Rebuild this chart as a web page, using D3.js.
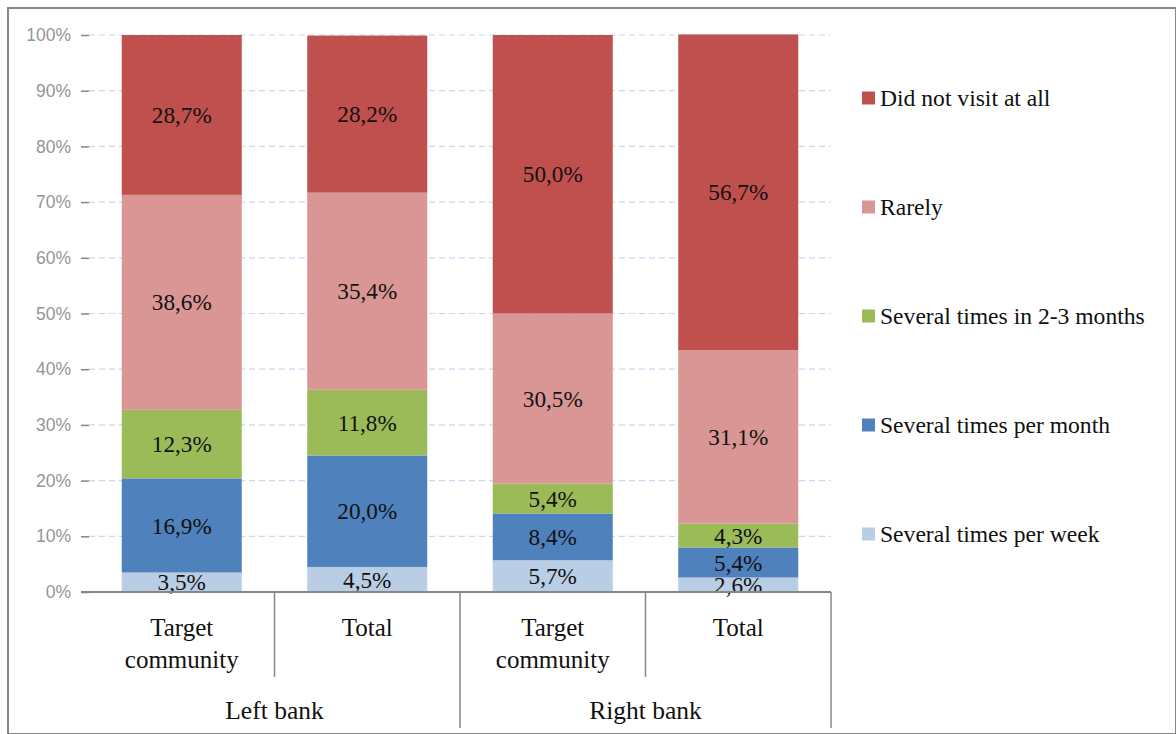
<!DOCTYPE html>
<html><head><meta charset="utf-8">
<script src="https://cdn.jsdelivr.net/npm/d3@7/dist/d3.min.js"></script>
</head><body>
<script>
// ---- data ----
const categories = ["LT", "LTot", "RT", "RTot"];
const categoryLabels = [["Target", "community"], ["Total"], ["Target", "community"], ["Total"]];
const groups = ["Left bank", "Right bank"];
const seriesNames = ["Several times per week", "Several times per month", "Several times in 2-3 months", "Rarely", "Did not visit at all"];
const perWeek    = [3.5, 4.5, 5.7, 2.6];
const perMonth   = [16.9, 20.0, 8.4, 5.4];
const in2to3     = [12.3, 11.8, 5.4, 4.3];
const rarely     = [38.6, 35.4, 30.5, 31.1];
const notAtAll   = [28.7, 28.2, 50.0, 56.7];
const yTicks = [0, 10, 20, 30, 40, 50, 60, 70, 80, 90, 100];
const colors = ["#B9CDE5", "#4F81BD", "#9BBB59", "#D99694", "#C0504D"];

const W = 1176, H = 734;
const SERIF = '"Liberation Serif"';
const SANS = '"Liberation Sans"';
d3.select("body").style("margin", "0px");
const svg = d3.select("body").append("svg").attr("width", W).attr("height", H).style("display", "block");

function serifText(sel, size) {
  return sel.attr("font-family", "Liberation Serif").style("font-family", SERIF).style("font-size", size + "px");
}

// outer border
svg.append("rect").attr("x", 8).attr("y", 8).attr("width", W - 8).attr("height", H - 8)
  .attr("fill", "none").attr("stroke", "#868686").attr("stroke-width", 2);

const x = d3.scaleBand().domain(categories).range([89, 831]).paddingInner(0.353).paddingOuter(0.1765);
const y = d3.scaleLinear().domain([0, 100]).range([592, 35]);

// gridlines
svg.append("g").selectAll("line").data(yTicks.filter(d => d > 0)).join("line")
  .attr("x1", 89).attr("x2", 831).attr("y1", d => y(d)).attr("y2", d => y(d))
  .attr("stroke", "#C6D9F1").attr("stroke-width", 1.2).attr("stroke-dasharray", "6,4");

// y axis ticks and labels
const yAxis = d3.axisLeft(y).tickValues(yTicks).tickSize(8).tickPadding(10).tickFormat(d => d + "%");
const gy = svg.append("g").attr("transform", "translate(89,0)").call(yAxis);
gy.select(".domain").remove();
gy.selectAll(".tick line").attr("stroke", "#868686").attr("stroke-width", 1.5);
gy.selectAll(".tick text").attr("fill", "#959595").style("font-family", SANS).style("font-size", "17.5px");

// stacked data
const rows = categories.map((c, i) => ({ cat: c, s0: perWeek[i], s1: perMonth[i], s2: in2to3[i], s3: rarely[i], s4: notAtAll[i] }));
const stack = d3.stack().keys(["s0", "s1", "s2", "s3", "s4"]);
const layers = stack(rows);

const gBars = svg.append("g");
layers.forEach((layer, li) => {
  gBars.selectAll(null).data(layer).join("rect")
    .attr("x", d => x(d.data.cat)).attr("width", x.bandwidth())
    .attr("y", d => y(d[1])).attr("height", d => y(d[0]) - y(d[1]))
    .attr("fill", colors[li]);
});
layers.forEach((layer, li) => {
  const t = gBars.selectAll(null).data(layer).join("text")
    .attr("x", d => x(d.data.cat) + x.bandwidth() / 2)
    .attr("y", d => (y(d[0]) + y(d[1])) / 2)
    .attr("dy", "0.35em").attr("text-anchor", "middle")
    .attr("fill", "#111")
    .text(d => (d[1] - d[0]).toFixed(1).replace(".", ",") + "%");
  serifText(t, 23.2);
});

// x axis line
svg.append("line").attr("x1", 81).attr("x2", 831).attr("y1", 592).attr("y2", 592)
  .attr("stroke", "#868686").attr("stroke-width", 2);

// category separators
const step = x.step();
const x0 = 89;
[1, 3].forEach(i => {
  svg.append("line").attr("x1", x0 + i * step).attr("x2", x0 + i * step).attr("y1", 592).attr("y2", 677)
    .attr("stroke", "#868686").attr("stroke-width", 1.5);
});
[2, 4].forEach(i => {
  svg.append("line").attr("x1", x0 + i * step).attr("x2", x0 + i * step).attr("y1", 592).attr("y2", 728)
    .attr("stroke", "#868686").attr("stroke-width", 1.5);
});

// category labels
categories.forEach((c, i) => {
  const t = serifText(svg.append("text").attr("text-anchor", "middle").attr("fill", "#111"), 25);
  categoryLabels[i].forEach((line, j) => {
    t.append("tspan").attr("x", x(c) + x.bandwidth() / 2).attr("y", 636 + j * 32).text(line);
  });
});
// group labels
groups.forEach((g, i) => {
  serifText(svg.append("text").attr("x", x0 + (2 * i + 1) * step).attr("y", 719).attr("text-anchor", "middle")
    .attr("fill", "#111").text(g), 25.5);
});

// legend
const legendOrder = [4, 3, 2, 1, 0];
const lg = svg.append("g");
legendOrder.forEach((si, k) => {
  const cy = 98 + k * 109;
  lg.append("rect").attr("x", 862).attr("y", cy - 6.5).attr("width", 13).attr("height", 13).attr("fill", colors[si]);
  serifText(lg.append("text").attr("x", 880).attr("y", cy).attr("dy", "0.35em")
    .attr("fill", "#111").text(seriesNames[si]), 23.6);
});
</script>
</body></html>
